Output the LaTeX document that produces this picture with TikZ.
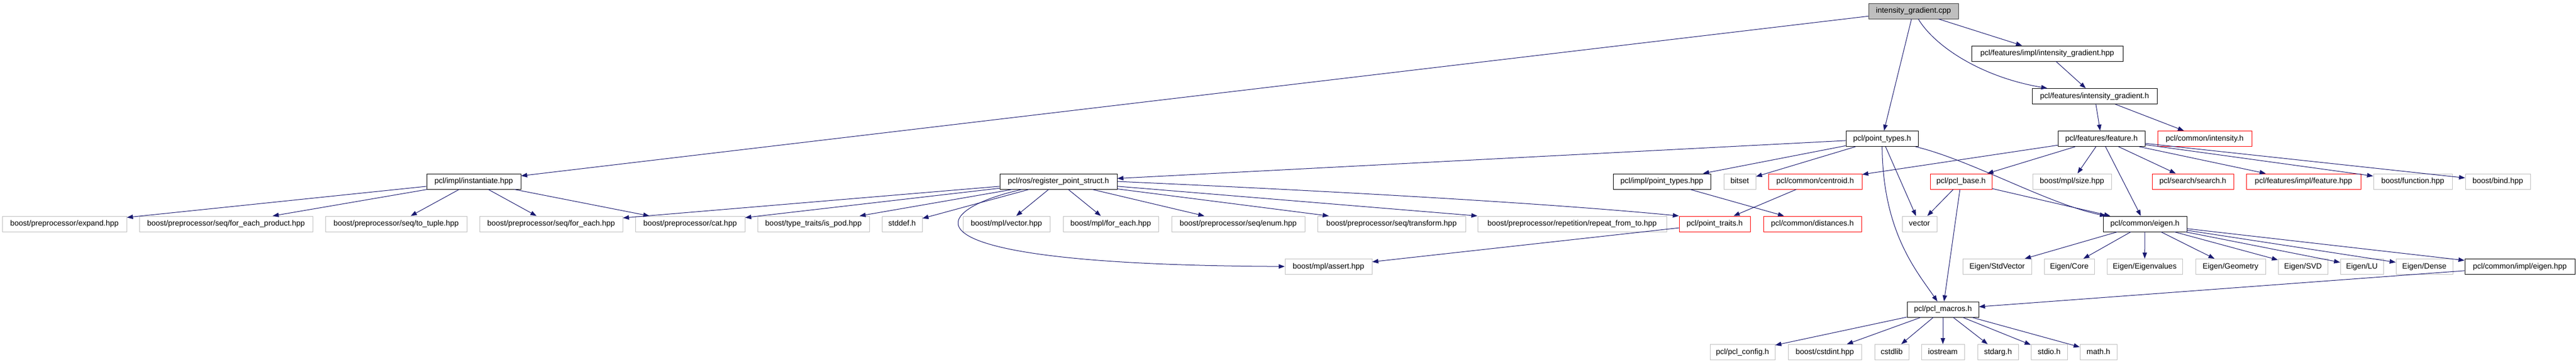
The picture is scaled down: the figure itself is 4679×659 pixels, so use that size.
\documentclass[tikz,border=0pt]{standalone}
\usepackage{fontspec}
\setmainfont{Liberation Sans}
\usetikzlibrary{arrows.meta}
\definecolor{edgeblue}{HTML}{191970}
\definecolor{extgray}{HTML}{BFBFBF}
\definecolor{rootline}{HTML}{404040}

\begin{document}
\begin{tikzpicture}[x=1pt,y=-1pt,
    incbox/.style={draw,line width=1pt,minimum height=28pt,inner xsep=2pt,
      text height=10pt,text depth=3pt,font=\fontsize{14}{16}\selectfont},
    docbox/.style={incbox,draw=black},
    truncbox/.style={incbox,draw=red},
    extbox/.style={incbox,draw=extgray},
    rootbox/.style={incbox,draw=rootline,fill=extgray},
    dep/.style={draw=edgeblue,line width=1pt,-{Triangle[length=11pt,width=8pt]}}]

        \useasboundingbox (0,0) rectangle (4679,659);

        % top of the graph
        \node[rootbox,minimum width=163pt] (cpp) at (3475.5,20) {intensity\_gradient.cpp};
        \node[docbox,minimum width=275pt] (ighpp) at (3718.5,97) {pcl/features/impl/intensity\_gradient.hpp};
        \node[docbox,minimum width=227pt] (igh) at (3804.5,174.5) {pcl/features/intensity\_gradient.h};

        \node[docbox,minimum width=131pt] (ptypes) at (3418.5,251.5) {pcl/point\_types.h};
        \node[docbox,minimum width=158pt] (feature) at (3817,251.5) {pcl/features/feature.h};
        \node[truncbox,minimum width=171pt] (intensity) at (4004.5,251.5) {pcl/common/intensity.h};

        % second level
        \node[docbox,minimum width=171pt] (instantiate) at (860.5,329) {pcl/impl/instantiate.hpp};
        \node[docbox,minimum width=213pt] (register) at (1922.5,329) {pcl/ros/register\_point\_struct.h};
        \node[docbox,minimum width=177pt] (ptypeshpp) at (3018.5,329) {pcl/impl/point\_types.hpp};
        \node[extbox,minimum width=58pt] (bitset) at (3160,329) {bitset};
        \node[truncbox,minimum width=170pt] (centroid) at (3297,329) {pcl/common/centroid.h};
        \node[truncbox,minimum width=112pt] (pclbase) at (3562,329) {pcl/pcl\_base.h};
        \node[extbox,minimum width=143pt] (mplsize) at (3763.5,329) {boost/mpl/size.hpp};
        \node[truncbox,minimum width=148pt] (search) at (3983,329) {pcl/search/search.h};
        \node[truncbox,minimum width=208pt] (featurehpp) at (4184,329) {pcl/features/impl/feature.hpp};
        \node[extbox,minimum width=143pt] (bfunction) at (4382.5,329) {boost/function.hpp};
        \node[extbox,minimum width=118pt] (bbind) at (4537,329) {boost/bind.hpp};

        % third level
        \node[extbox,minimum width=226pt] (expand) at (117,406) {boost/preprocessor/expand.hpp};
        \node[extbox,minimum width=315pt] (foreachproduct) at (410.5,406) {boost/preprocessor/seq/for\_each\_product.hpp};
        \node[extbox,minimum width=257pt] (totuple) at (719.5,406) {boost/preprocessor/seq/to\_tuple.hpp};
        \node[extbox,minimum width=260pt] (seqforeach) at (1001,406) {boost/preprocessor/seq/for\_each.hpp};
        \node[extbox,minimum width=199pt] (cat) at (1253.5,406) {boost/preprocessor/cat.hpp};
        \node[extbox,minimum width=203pt] (ispod) at (1477.5,406) {boost/type\_traits/is\_pod.hpp};
        \node[extbox,minimum width=73pt] (stddef) at (1638.5,406) {stddef.h};
        \node[extbox,minimum width=158pt] (mplvector) at (1828,406) {boost/mpl/vector.hpp};
        \node[extbox,minimum width=173pt] (mplforeach) at (2017.5,406) {boost/mpl/for\_each.hpp};
        \node[extbox,minimum width=242pt] (seqenum) at (2249,406) {boost/preprocessor/seq/enum.hpp};
        \node[extbox,minimum width=269pt] (seqtransform) at (2527.5,406) {boost/preprocessor/seq/transform.hpp};
        \node[extbox,minimum width=343pt] (repeat) at (2855.5,406) {boost/preprocessor/repetition/repeat\_from\_to.hpp};
        \node[truncbox,minimum width=129pt] (pointtraits) at (3114.5,406) {pcl/point\_traits.h};
        \node[truncbox,minimum width=178pt] (distances) at (3292,406) {pcl/common/distances.h};
        \node[extbox,minimum width=63pt] (vector) at (3486.5,406) {vector};
        \node[docbox,minimum width=152pt] (eigen) at (3896,406) {pcl/common/eigen.h};

        % fourth level
        \node[extbox,minimum width=158pt] (mplassert) at (2413,483.5) {boost/mpl/assert.hpp};
        \node[extbox,minimum width=125pt] (stdvector) at (3627.5,483.5) {Eigen/StdVector};
        \node[extbox,minimum width=91pt] (core) at (3758.5,483.5) {Eigen/Core};
        \node[extbox,minimum width=137pt] (eigenvalues) at (3895.5,483.5) {Eigen/Eigenvalues};
        \node[extbox,minimum width=127pt] (geometry) at (4051.5,483.5) {Eigen/Geometry};
        \node[extbox,minimum width=90pt] (svd) at (4183,483.5) {Eigen/SVD};
        \node[extbox,minimum width=78pt] (lu) at (4290,483.5) {Eigen/LU};
        \node[extbox,minimum width=103pt] (dense) at (4403.5,483.5) {Eigen/Dense};
        \node[docbox,minimum width=200pt] (eigenhpp) at (4577,483.5) {pcl/common/impl/eigen.hpp};

        \node[docbox,minimum width=130pt] (macros) at (3529,561) {pcl/pcl\_macros.h};

        % bottom row
        \node[extbox,minimum width=118pt] (config) at (3165,638.5) {pcl/pcl\_config.h};
        \node[extbox,minimum width=133pt] (cstdint) at (3314.5,638.5) {boost/cstdint.hpp};
        \node[extbox,minimum width=62pt] (cstdlib) at (3436,638.5) {cstdlib};
        \node[extbox,minimum width=78pt] (iostream) at (3529,638.5) {iostream};
        \node[extbox,minimum width=74pt] (stdarg) at (3629,638.5) {stdarg.h};
        \node[extbox,minimum width=66pt] (stdio) at (3722,638.5) {stdio.h};
        \node[extbox,minimum width=67pt] (math) at (3811.5,638.5) {math.h};

        % includes of the .cpp
        \draw[dep] (cpp) -- (instantiate);
        \draw[dep] (cpp) -- (ptypes);
        \draw[dep] (cpp) .. controls (3515,85) and (3600,140) .. (igh);
        \draw[dep] (cpp) -- (ighpp);
        \draw[dep] (ighpp) -- (igh);
        \draw[dep] (igh) -- (feature);
        \draw[dep] (igh) -- (intensity);

        \draw[dep] (ptypes) -- (register);
        \draw[dep] (ptypes) -- (ptypeshpp);
        \draw[dep] (ptypes) -- (bitset);
        \draw[dep] (ptypes) -- (vector);
        \draw[dep] (ptypes) .. controls (3420,420) and (3480,490) .. (macros);
        \draw[dep] (ptypes) .. controls (3580,290) and (3720,370) .. (eigen);

        \draw[dep] (feature) -- (centroid);
        \draw[dep] (feature) -- (pclbase);
        \draw[dep] (feature) -- (mplsize);
        \draw[dep] (feature) -- (eigen);
        \draw[dep] (feature) -- (search);
        \draw[dep] (feature) -- (featurehpp);
        \draw[dep] (feature) -- (bfunction);
        \draw[dep] (feature) -- (bbind);

        \draw[dep] (instantiate) -- (expand);
        \draw[dep] (instantiate) -- (foreachproduct);
        \draw[dep] (instantiate) -- (totuple);
        \draw[dep] (instantiate) -- (seqforeach);
        \draw[dep] (instantiate) -- (cat);

        \draw[dep] (register) -- (seqforeach);
        \draw[dep] (register) -- (cat);
        \draw[dep] (register) -- (ispod);
        \draw[dep] (register) -- (stddef);
        \draw[dep] (register) -- (mplvector);
        \draw[dep] (register) -- (mplforeach);
        \draw[dep] (register) -- (seqenum);
        \draw[dep] (register) -- (seqtransform);
        \draw[dep] (register) -- (repeat.north west);
        \draw[dep] (register.east) .. controls (2500,350) and (2850,372) .. (pointtraits.north west);
        \draw[dep] (register) .. controls (1690,380) and (1600,480) .. (mplassert);

        \draw[dep] (ptypeshpp) -- (distances);
        \draw[dep] (centroid) -- (pointtraits);
        \draw[dep] (pointtraits) -- (mplassert);

        \draw[dep] (pclbase) -- (vector);
        \draw[dep] (pclbase) -- (macros);
        \draw[dep] (pclbase) -- (eigen);

        % eigen includes
        \draw[dep] (eigen) -- (stdvector);
        \draw[dep] (eigen) -- (core);
        \draw[dep] (eigen) -- (eigenvalues);
        \draw[dep] (eigen) -- (geometry);
        \draw[dep] (eigen) -- (svd);
        \draw[dep] (eigen) -- (lu);
        \draw[dep] (eigen) -- (dense);
        \draw[dep] (eigen) -- (eigenhpp);
        \draw[dep] (eigenhpp) -- (macros);

        \draw[dep] (macros) -- (config);
        \draw[dep] (macros) -- (cstdint);
        \draw[dep] (macros) -- (cstdlib);
        \draw[dep] (macros) -- (iostream);
        \draw[dep] (macros) -- (stdarg);
        \draw[dep] (macros) -- (stdio);
        \draw[dep] (macros) -- (math);

    \end{tikzpicture}
\end{document}
